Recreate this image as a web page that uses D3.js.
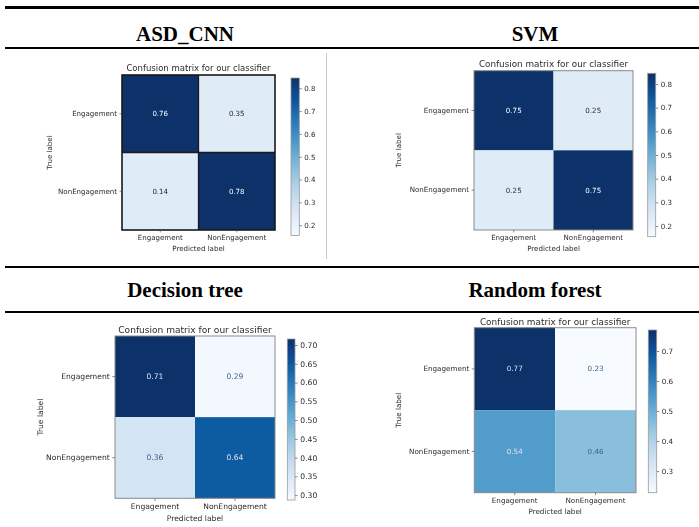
<!DOCTYPE html>
<html>
<head>
<meta charset="utf-8">
<script src="https://cdn.jsdelivr.net/npm/d3@7"></script>
<style>
  html, body { margin: 0; padding: 0; background: #ffffff; }
  svg { display: block; }
</style>
</head>
<body>
<svg id="chart" width="699" height="527"></svg>
<script>
// Class labels shared by every confusion matrix
const classes = ["Engagement", "NonEngagement"];

// Section headings, one per classifier
const headings = ["ASD_CNN", "SVM", "Decision tree", "Random forest"];

// Confusion-matrix values (rows = true label, columns = predicted label)
const asdCnnValues = [[0.76, 0.35], [0.14, 0.78]];
const svmValues = [[0.75, 0.25], [0.25, 0.75]];
const decisionTreeValues = [[0.71, 0.29], [0.36, 0.64]];
const randomForestValues = [[0.77, 0.23], [0.54, 0.46]];

// Colour normalisation limits used to shade the cells of each matrix
const cellColorNorms = [[0.35, 0.76], [0.25, 0.75], [0.29, 0.71], [0.23, 0.77]];

// Colour-bar limits and tick labels for each matrix
const colorbarDomains = [[0.155, 0.845], [0.155, 0.845], [0.287, 0.716], [0.228, 0.770]];
const colorbarTicks = [
  [0.2, 0.3, 0.4, 0.5, 0.6, 0.7, 0.8],
  [0.2, 0.3, 0.4, 0.5, 0.6, 0.7, 0.8],
  [0.30, 0.35, 0.40, 0.45, 0.50, 0.55, 0.60, 0.65, 0.70],
  [0.3, 0.4, 0.5, 0.6, 0.7]
];
const colorbarFormats = [".1f", ".1f", ".2f", ".1f"];

const plotTitle = "Confusion matrix for our classifier";
const xAxisLabel = "Predicted label";
const yAxisLabel = "True label";

const matrices = [asdCnnValues, svmValues, decisionTreeValues, randomForestValues];

// Placement of each figure on the page
const layouts = [
  { headX: 185, headY: 40.7, x: 122, y: 75, w: 153, h: 155, cbX: 291, cbY: 78, cbW: 8.3, cbH: 157.5,
    fs: 7.05, tfs: 8.5, titleY: 71, yLabX: 49.5, spine: "#1a1a1a", spineW: 1.6, grid: true, tLo: 0.12,
    darkText: "#262626", lightText: "#ffffff" },
  { headX: 535, headY: 40.7, x: 474, y: 70.7, w: 159, h: 159.3, cbX: 647.7, cbY: 73.3, cbW: 8, cbH: 163.4,
    fs: 7.1, tfs: 8.8, titleY: 66.5, yLabX: 398.3, spine: "#8a8a8a", spineW: 1, grid: false, tLo: 0.12,
    darkText: "#2e2e2e", lightText: "#ffffff" },
  { headX: 185, headY: 296.7, x: 115, y: 336, w: 160, h: 162.3, cbX: 287.3, cbY: 339, cbW: 7.7, cbH: 161,
    fs: 7.6, tfs: 9.05, titleY: 333, yLabX: 40, spine: "#8a8a8a", spineW: 1, grid: false, tLo: 0.02,
    darkText: "#3f5f95", lightText: "#dbe4f1" },
  { headX: 535, headY: 296.7, x: 474.3, y: 327.7, w: 161.7, h: 165, cbX: 648.3, cbY: 330, cbW: 8.4, cbH: 162.7,
    fs: 7.2, tfs: 8.9, titleY: 325, yLabX: 398.3, spine: "#8a8a8a", spineW: 1, grid: false, tLo: 0,
    darkText: "#3f5f95", lightText: "#dbe4f1" }
];

const svg = d3.select("#chart");
const defs = svg.append("defs");

// slight softening of the plotted figures
defs.append("filter").attr("id", "soft")
  .attr("x", "-5%").attr("y", "-5%").attr("width", "110%").attr("height", "110%")
  .append("feGaussianBlur").attr("stdDeviation", 0.45);

// Page rules
const rules = [
  { y: 7.5, w: 3 }, { y: 48, w: 2 }, { y: 267, w: 2 }, { y: 312, w: 2 }
];
svg.selectAll("line.rule").data(rules).join("line")
  .attr("class", "rule")
  .attr("x1", 5).attr("x2", 699)
  .attr("y1", d => d.y).attr("y2", d => d.y)
  .attr("stroke", "#000").attr("stroke-width", d => d.w);

svg.append("line")
  .attr("x1", 326.5).attr("x2", 326.5).attr("y1", 53).attr("y2", 259)
  .attr("stroke", "#c8c8c8").attr("stroke-width", 1);

// Headings
svg.selectAll("text.heading").data(headings).join("text")
  .attr("class", "heading")
  .attr("x", (d, i) => layouts[i].headX)
  .attr("y", (d, i) => layouts[i].headY)
  .attr("text-anchor", "middle")
  .attr("font-family", "'Liberation Serif', 'Times New Roman', serif")
  .attr("font-weight", "bold")
  .attr("font-size", 21)
  .attr("fill", "#000")
  .text(d => d);

const font = "'DejaVu Sans', sans-serif";
const textColor = "#2b2b2b";

matrices.forEach((values, i) => {
  const L = layouts[i];
  const g = svg.append("g").attr("filter", "url(#soft)");

  // value -> position along the Blues ramp
  const norm = d3.scaleLinear().domain(cellColorNorms[i]).range([L.tLo, 1]).clamp(true);
  const color = v => d3.interpolateBlues(norm(v));

  const xs = d3.scaleBand().domain(classes).range([L.x, L.x + L.w]);
  const ys = d3.scaleBand().domain(classes).range([L.y, L.y + L.h]);

  const cells = [];
  values.forEach((row, r) => row.forEach((v, c) => cells.push({ r, c, v })));

  g.selectAll("rect.cell").data(cells).join("rect")
    .attr("class", "cell")
    .attr("x", d => xs(classes[d.c]))
    .attr("y", d => ys(classes[d.r]))
    .attr("width", xs.bandwidth())
    .attr("height", ys.bandwidth())
    .attr("fill", d => color(d.v));

  if (L.grid) {
    g.append("line")
      .attr("x1", xs(classes[1])).attr("x2", xs(classes[1]))
      .attr("y1", L.y).attr("y2", L.y + L.h)
      .attr("stroke", L.spine).attr("stroke-width", 1.3);
    g.append("line")
      .attr("x1", L.x).attr("x2", L.x + L.w)
      .attr("y1", ys(classes[1])).attr("y2", ys(classes[1]))
      .attr("stroke", L.spine).attr("stroke-width", 1.3);
  }

  g.append("rect")
    .attr("x", L.x).attr("y", L.y).attr("width", L.w).attr("height", L.h)
    .attr("fill", "none").attr("stroke", L.spine).attr("stroke-width", L.spineW);

  g.selectAll("text.val").data(cells).join("text")
    .attr("class", "val")
    .attr("x", d => xs(classes[d.c]) + xs.bandwidth() / 2)
    .attr("y", d => ys(classes[d.r]) + ys.bandwidth() / 2)
    .attr("dy", "0.35em")
    .attr("text-anchor", "middle")
    .attr("font-family", font)
    .attr("font-size", L.fs)
    .attr("fill", d => norm(d.v) >= 0.5 ? L.lightText : L.darkText)
    .text(d => d3.format(".2f")(d.v));

  // Axes
  const tick = L.fs * 0.35;
  const xAxis = g.append("g").attr("transform", `translate(0,${L.y + L.h})`)
    .call(d3.axisBottom(xs).tickSize(tick).tickPadding(tick));
  const yAxis = g.append("g").attr("transform", `translate(${L.x},0)`)
    .call(d3.axisLeft(ys).tickSize(tick).tickPadding(tick));
  [xAxis, yAxis].forEach(a => {
    a.select(".domain").remove();
    a.selectAll(".tick line").attr("stroke", "#555").attr("stroke-width", 0.7);
    a.selectAll(".tick text").attr("font-family", font).attr("font-size", L.fs).attr("fill", textColor);
  });

  g.append("text")
    .attr("x", L.x + L.w / 2).attr("y", L.titleY)
    .attr("text-anchor", "middle")
    .attr("font-family", font).attr("font-size", L.tfs).attr("fill", textColor)
    .text(plotTitle);

  g.append("text")
    .attr("x", L.x + L.w / 2).attr("y", L.y + L.h + 3 * L.fs)
    .attr("text-anchor", "middle")
    .attr("font-family", font).attr("font-size", L.fs).attr("fill", textColor)
    .text(xAxisLabel);

  g.append("text")
    .attr("transform", `translate(${L.yLabX},${L.y + L.h / 2}) rotate(-90)`)
    .attr("dy", "0.35em")
    .attr("text-anchor", "middle")
    .attr("font-family", font).attr("font-size", L.fs).attr("fill", textColor)
    .text(yAxisLabel);

  // Colour bar
  const [cLo, cHi] = colorbarDomains[i];
  const gradId = `cbar${i}`;
  const grad = defs.append("linearGradient").attr("id", gradId)
    .attr("x1", 0).attr("y1", 1).attr("x2", 0).attr("y2", 0);
  d3.range(0, 1.0001, 0.1).forEach(t => {
    grad.append("stop").attr("offset", t).attr("stop-color", d3.interpolateBlues(t));
  });
  g.append("rect")
    .attr("x", L.cbX).attr("y", L.cbY).attr("width", L.cbW).attr("height", L.cbH)
    .attr("fill", `url(#${gradId})`)
    .attr("stroke", "#9a9a9a").attr("stroke-width", 0.8);

  const cs = d3.scaleLinear().domain([cLo, cHi]).range([L.cbY + L.cbH, L.cbY]);
  const cAxis = g.append("g").attr("transform", `translate(${L.cbX + L.cbW},0)`)
    .call(d3.axisRight(cs).tickValues(colorbarTicks[i]).tickFormat(d3.format(colorbarFormats[i]))
      .tickSize(tick).tickPadding(tick));
  cAxis.select(".domain").remove();
  cAxis.selectAll(".tick line").attr("stroke", "#555").attr("stroke-width", 0.7);
  cAxis.selectAll(".tick text").attr("font-family", font).attr("font-size", L.fs).attr("fill", textColor);
});
</script>
</body>
</html>
